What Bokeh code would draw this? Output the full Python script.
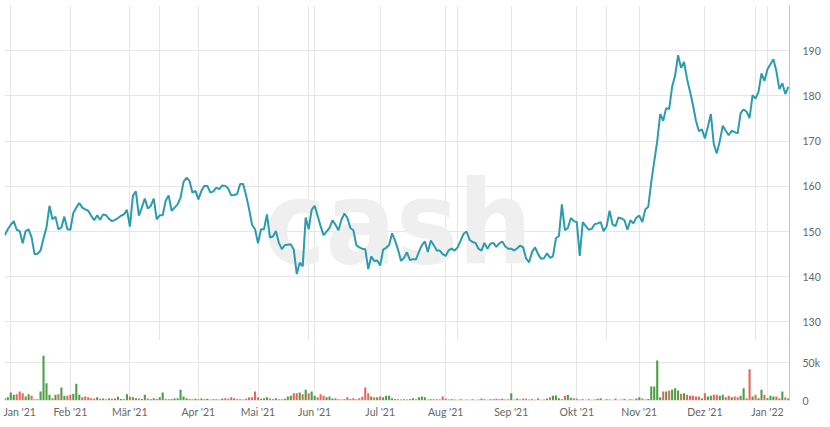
import pandas as pd
from pandas.tseries.offsets import CustomBusinessDay
from bokeh.plotting import figure
from bokeh.models import (ColumnDataSource, Range1d, FixedTicker, NumeralTickFormatter,
                          Label, Grid)
from bokeh.layouts import column
from bokeh.embed import file_html
from bokeh.resources import INLINE

# ---- data -------------------------------------------------------------
# SIX trading calendar (ordinal x axis, one point per trading day)
first_day = "2020-12-29"
last_day = "2022-01-12"
exchange_holidays = ["2020-12-31", "2021-01-01", "2021-04-02", "2021-04-05",
                     "2021-05-13", "2021-05-24", "2021-12-24", "2021-12-31"]

month_names = ["Jan", "Feb", "Mär", "Apr", "Mai", "Jun", "Jul", "Aug",
               "Sep", "Okt", "Nov", "Dez"]

# closing prices, one per trading day
prices = [
    149.2, 150.5, 151.5, 152.3, 150.4, 150.1, 147.4, 150.1, 150.5, 148.7,
    145.0, 145.1, 145.8, 148.5, 150.9, 155.7, 152.7, 153.3, 150.5, 150.9,
    153.3, 150.5, 150.4, 154.1, 155.3, 156.3, 155.3, 154.9, 154.6, 153.5,
    152.5, 153.6, 152.6, 153.8, 153.6, 152.8, 152.3, 152.6, 153.0, 153.5,
    153.8, 154.8, 151.1, 157.9, 158.9, 153.5, 155.3, 157.3, 155.1, 155.7,
    157.3, 152.7, 153.6, 153.6, 156.8, 158.0, 154.6, 155.3, 156.0, 157.5,
    161.0, 161.9, 161.2, 158.6, 159.0, 157.1, 159.0, 160.1, 160.1, 158.6,
    158.9, 159.7, 159.4, 160.2, 160.1, 159.5, 158.0, 158.1, 158.3, 160.5,
    160.5, 158.0, 155.0, 151.5, 150.5, 147.4, 150.5, 150.5, 153.8, 148.7,
    148.9, 150.1, 147.5, 146.1, 147.0, 147.1, 147.2, 146.0, 140.6, 143.1,
    142.3, 153.1, 150.5, 154.8, 155.7, 153.5, 151.2, 149.2, 150.0, 150.8,
    152.5, 151.5, 150.3, 152.6, 154.0, 153.0, 150.8, 150.3, 147.0, 146.5,
    146.2, 146.1, 141.7, 144.5, 143.5, 143.6, 142.5, 146.0, 146.4, 147.0,
    149.6, 148.0, 146.0, 143.5, 144.2, 145.4, 143.7, 143.9, 143.8, 145.5,
    147.0, 147.8, 145.5, 148.0, 147.0, 145.8, 145.8, 145.0, 144.6, 145.9,
    146.2, 145.8, 146.5, 148.0, 149.5, 150.0, 148.2, 147.7, 147.5, 146.2,
    145.8, 147.5, 146.2, 147.3, 147.5, 146.6, 147.4, 147.8, 146.7, 146.2,
    146.2, 145.8, 146.3, 146.9, 146.5, 144.0, 143.2, 145.5, 146.5, 145.0,
    144.0, 144.1, 145.2, 144.2, 144.5, 148.5, 149.0, 156.0, 150.3, 150.8,
    153.0, 152.3, 152.1, 144.6, 152.1, 151.2, 150.4, 150.6, 151.6, 151.8,
    152.1, 150.1, 151.1, 154.6, 151.6, 151.2, 153.1, 152.9, 152.5, 150.4,
    152.5, 151.8, 153.1, 153.5, 152.1, 154.9, 155.5, 161.0, 165.5, 170.0,
    176.0, 174.5, 177.3, 177.1, 182.0, 184.5, 189.0, 186.2, 187.5, 183.8,
    181.0, 178.0, 174.5, 172.2, 172.6, 170.6, 173.2, 176.0, 169.3, 167.3,
    170.0, 173.4, 172.3, 171.3, 172.3, 172.0, 171.7, 176.2, 177.0, 176.5,
    175.1, 180.2, 179.4, 180.9, 185.0, 183.3, 185.9, 187.0, 188.1, 185.5,
    181.5, 182.8, 180.4, 182.0,
]

# traded volume, thousands of shares per day
volume_k = [
    3, 4.4, 10.5, 7.5, 8.3, 11.8, 9.6, 5.3, 8.3, 6.1,
    1.8, 1.8, 11.8, 58.8, 22.8, 7.5, 3, 7.5, 8.3, 17,
    6.1, 6.1, 7.5, 8.8, 22, 7.5, 4.4, 5.3, 4.4, 3,
    2.6, 4.4, 2.2, 2.6, 1.8, 3, 2.2, 2.6, 5, 2,
    1.5, 8.3, 5, 4.4, 3, 2.6, 2, 7.5, 2.6, 1.5,
    3, 2, 4.4, 10.5, 1.5, 1.8, 2, 2.6, 3, 14,
    5.3, 3, 2, 1.8, 2.2, 1.5, 2.6, 1.5, 2.2, 1.2,
    1.8, 1.5, 1.2, 2.6, 3, 2.2, 4.4, 3, 1.8, 1.5,
    1.2, 2.2, 4.4, 4.4, 11.8, 4.4, 2.2, 3, 4.4, 2.6,
    1.5, 3, 1.8, 1.8, 2.2, 5.3, 6.1, 9.6, 9.6, 10.5,
    8.3, 14, 9.6, 11.8, 6.1, 4.4, 8.3, 6.1, 4.4, 5.3,
    2.6, 3, 1.8, 1.2, 1.5, 4.4, 2, 3, 1.5, 3,
    5, 17, 9.6, 5.3, 4.4, 4.4, 5.3, 4.4, 6.1, 6.1,
    3, 2, 1.8, 1.2, 1.8, 1.2, 2, 3, 1.8, 4.4,
    5.3, 4.4, 1.2, 1.5, 1.8, 1.8, 1.2, 5.3, 2.6, 1.2,
    1.5, 1.2, 1, 1.8, 1, 1.2, 1, 1.8, 1, 1.2,
    2.6, 1.5, 1, 1.8, 1.5, 2.2, 1.5, 2.2, 1.2, 1.5,
    9.6, 1.2, 2.6, 1.2, 2.6, 2.2, 1.2, 1.8, 1, 3,
    1, 1.2, 2.6, 4.4, 6.1, 6.6, 3, 1.5, 6.1, 7.5,
    3.5, 3, 2.2, 1.2, 1.8, 1, 1.8, 1, 1.2, 2.2,
    3, 1, 1.8, 1.2, 1, 2.6, 1, 1.2, 2.2, 1,
    1.8, 1.2, 2.6, 4.4, 2.6, 1.2, 2, 18.4, 18.4, 52.6,
    4.4, 11.8, 11.8, 12.7, 14, 16.2, 13.2, 8.8, 9.6, 7.5,
    6.1, 6.1, 5.3, 5.3, 3, 9.6, 5.3, 6.1, 7.5, 7.5,
    6.1, 7.5, 4.4, 6.1, 4.4, 5.3, 4.4, 6.1, 16.2, 3,
    41, 5.3, 7.5, 3, 14, 7.5, 3, 6.1, 5.3, 5.3,
    3, 11.8, 4.4, 2.6,
]

price_ticks = [130, 140, 150, 160, 170, 180, 190]
price_grid = [130, 140, 150, 160, 170, 180, 190, 200]
volume_ticks = [0, 50000]

# ---- build table --------------------------------------------------------
dates = pd.date_range(first_day, last_day, freq=CustomBusinessDay(holidays=exchange_holidays))
n = min(len(dates), len(prices), len(volume_k))
dates = dates[:n]
offset = list(dates).index(pd.Timestamp("2021-01-04"))
xs = [i - offset for i in range(n)]
vols = [v * 1000 for v in volume_k[:n]]
pr = prices[:n]

GREEN = "#4f9e47"
RED = "#e2685e"
colors = [GREEN] + [GREEN if pr[i] >= pr[i - 1] else RED for i in range(1, n)]

src = ColumnDataSource(dict(x=xs, date=dates, price=pr, vol=vols, color=colors))

# month ticks at the first trading day of each month (from Jan 2021)
tick_x, tick_lbl = [], []
seen = set()
for i, d in enumerate(dates):
    key = (d.year, d.month)
    if key in seen:
        continue
    seen.add(key)
    if d.year < 2021:
        continue
    tick_x.append(xs[i])
    tick_lbl.append(f"{month_names[d.month - 1]} '{str(d.year)[2:]}")

# the first month label is nudged inward so it stays inside the chart,
# like the original chart library does for an edge label
label_x = list(tick_x)
label_x[0] = tick_x[0] + 3

# ---- styling ------------------------------------------------------------
FONT = "Lato"
GRID = "#e6e6e6"
LABEL = "#666666"
AXIS_LINE = "#c4c4c4"
FRAME_W = 785
LEFT = 4
x_range = Range1d(xs[0] - 0.1, xs[-1] + 0.4)

top = figure(frame_width=FRAME_W, frame_height=335, x_range=x_range,
             y_range=Range1d(125.9, 200), output_backend="svg",
             toolbar_location=None, x_axis_location=None, y_axis_location="right",
             min_border_left=LEFT, min_border_top=5, min_border_bottom=0,
             min_border_right=4)
top.outline_line_color = None

top.add_layout(Grid(dimension=0, ticker=FixedTicker(ticks=tick_x),
                    grid_line_color=GRID, grid_line_width=1))
top.ygrid.ticker = FixedTicker(ticks=price_grid)
top.ygrid.grid_line_color = GRID


def style_right_axis(ax):
    ax.major_tick_line_color = None
    ax.minor_tick_line_color = None
    ax.major_tick_out = 0
    ax.major_tick_in = 0
    ax.minor_tick_out = 0
    ax.axis_line_color = AXIS_LINE
    ax.major_label_standoff = 13
    ax.major_label_text_color = LABEL
    ax.major_label_text_font = FONT
    ax.major_label_text_font_size = "10.5px"


ya = top.yaxis[0]
ya.ticker = FixedTicker(ticks=price_ticks)
style_right_axis(ya)

watermark = Label(x=130, y=151.9, text="cash", text_font_size="116px",
                  text_font="DejaVu Sans Condensed, Liberation Sans Narrow, Roboto",
                  text_font_style="bold", text_color="#efefef", text_align="center",
                  text_baseline="middle", level="underlay")
top.add_layout(watermark)

top.line("x", "price", source=src, line_color="#2b9cad", line_width=2)

vol_top = 50000 * 60 / 38
bot = figure(frame_width=FRAME_W, frame_height=60, x_range=x_range,
             y_range=Range1d(0, vol_top), output_backend="svg",
             toolbar_location=None, y_axis_location="right",
             min_border_left=LEFT, min_border_top=0, min_border_bottom=0,
             min_border_right=4)
bot.outline_line_color = None
bot.vbar(x="x", top="vol", width=0.7, source=src, fill_color="color",
         line_color=None)

xa = bot.xaxis[0]
xa.ticker = FixedTicker(ticks=label_x)
xa.major_label_overrides = {t: l for t, l in zip(label_x, tick_lbl)}
xa.axis_line_color = None
xa.major_tick_line_color = None
xa.minor_tick_line_color = None
xa.major_tick_out = 0
xa.major_tick_in = 0
xa.minor_tick_out = 0
xa.major_label_standoff = 5
xa.major_label_text_color = LABEL
xa.major_label_text_font = FONT
xa.major_label_text_font_size = "10.5px"
bot.xgrid.ticker = FixedTicker(ticks=tick_x)
bot.xgrid.grid_line_color = GRID

vy = bot.yaxis[0]
vy.ticker = FixedTicker(ticks=volume_ticks)
vy.formatter = NumeralTickFormatter(format="0a")
style_right_axis(vy)
bot.ygrid.ticker = FixedTicker(ticks=volume_ticks)
bot.ygrid.grid_line_color = GRID

layout = column(top, bot, spacing=0)

open("out.html", "w").write(file_html(layout, INLINE))
